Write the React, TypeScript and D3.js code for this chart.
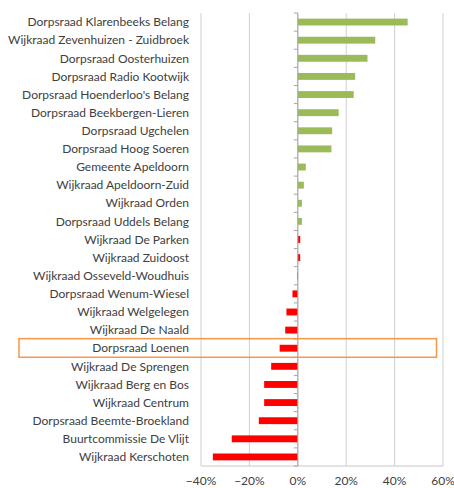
import React from "react";
import * as d3 from "d3";

const categories: string[] = [
  "Dorpsraad Klarenbeeks Belang",
  "Wijkraad Zevenhuizen - Zuidbroek",
  "Dorpsraad Oosterhuizen",
  "Dorpsraad Radio Kootwijk",
  "Dorpsraad Hoenderloo's Belang",
  "Dorpsraad Beekbergen-Lieren",
  "Dorpsraad Ugchelen",
  "Dorpsraad Hoog Soeren",
  "Gemeente Apeldoorn",
  "Wijkraad Apeldoorn-Zuid",
  "Wijkraad Orden",
  "Dorpsraad Uddels Belang",
  "Wijkraad De Parken",
  "Wijkraad Zuidoost",
  "Wijkraad Osseveld-Woudhuis",
  "Dorpsraad Wenum-Wiesel",
  "Wijkraad Welgelegen",
  "Wijkraad De Naald",
  "Dorpsraad Loenen",
  "Wijkraad De Sprengen",
  "Wijkraad Berg en Bos",
  "Wijkraad Centrum",
  "Dorpsraad Beemte-Broekland",
  "Buurtcommissie De Vlijt",
  "Wijkraad Kerschoten",
];

const values: number[] = [
  0.454, 0.32, 0.288, 0.237, 0.231, 0.169, 0.142, 0.139, 0.033, 0.025, 0.017,
  0.017, 0.01, 0.01, -0.003, -0.022, -0.047, -0.052, -0.075, -0.11, -0.139,
  -0.139, -0.161, -0.273, -0.351,
];

// series colour group: "g" green, "r" red
const colorGroup: string[] = [
  "g", "g", "g", "g", "g", "g", "g", "g", "g", "g", "g", "g",
  "r", "r", "r", "r", "r", "r", "r", "r", "r", "r", "r", "r", "r",
];

const tickValues: number[] = [-0.4, -0.2, 0, 0.2, 0.4, 0.6];
const highlighted = "Dorpsraad Loenen";

export default function App() {
  const width = 454;
  const height = 488;
  const left = 201;
  const right = 443;
  const top = 13;
  const bottom = 466;

  const x = d3.scaleLinear().domain([-0.4, 0.6]).range([left, right]);
  const y = d3
    .scaleBand<string>()
    .domain(categories)
    .range([top, bottom])
    .paddingInner(0.62)
    .paddingOuter(0.31);
  const step = y.step();
  const bandTop = (c: string) => y(c)! - y.paddingInner() * step / 2;
  const fmt = d3.format(".0%");
  const font = "Lato, 'Open Sans', sans-serif";
  const hl = bandTop(highlighted);

  return (
    <svg
      width={width}
      height={height}
      style={{ position: "absolute", left: 0, top: 0, background: "#fff" }}
    >
      {tickValues.map((t) => (
        <line
          key={"g" + t}
          x1={x(t)}
          x2={x(t)}
          y1={top}
          y2={bottom}
          stroke="#d0d0d0"
          strokeWidth={1}
        />
      ))}
      <line x1={left} x2={right} y1={bottom} y2={bottom} stroke="#c8c8c8" />
      {categories.map((c, i) => {
        const v = values[i];
        return (
          <rect
            key={c}
            x={Math.min(x(0), x(v))}
            y={y(c)}
            width={Math.max(0.6, Math.abs(x(v) - x(0)))}
            height={y.bandwidth()}
            fill={colorGroup[i] === "g" ? "#9bbb59" : "#ff0000"}
          />
        );
      })}
      <line x1={x(0)} x2={x(0)} y1={top} y2={bottom} stroke="#a6a6a6" />
      {categories.map((c) => (
        <line
          key={"t" + c}
          x1={x(0) - 4}
          x2={x(0)}
          y1={bandTop(c)}
          y2={bandTop(c)}
          stroke="#a6a6a6"
        />
      ))}
      <line x1={x(0) - 4} x2={x(0)} y1={bottom} y2={bottom} stroke="#a6a6a6" />
      {categories.map((c) => (
        <text
          key={"l" + c}
          x={189}
          y={y(c)! + y.bandwidth() / 2}
          dy="0.35em"
          textAnchor="end"
          fontFamily={font}
          fontSize={12}
          fill="#404040"
        >
          {c}
        </text>
      ))}
      {tickValues.map((t) => (
        <text
          key={"x" + t}
          x={x(t)}
          y={480.5}
          dy="0.35em"
          textAnchor="middle"
          fontFamily={font}
          fontSize={12}
          fill="#404040"
        >
          {fmt(t)}
        </text>
      ))}
      <rect
        x={19}
        y={hl - 0.5}
        width={417.5}
        height={step + 0.5}
        fill="none"
        stroke="#f79646"
        strokeWidth={1.5}
      />
    </svg>
  );
}
